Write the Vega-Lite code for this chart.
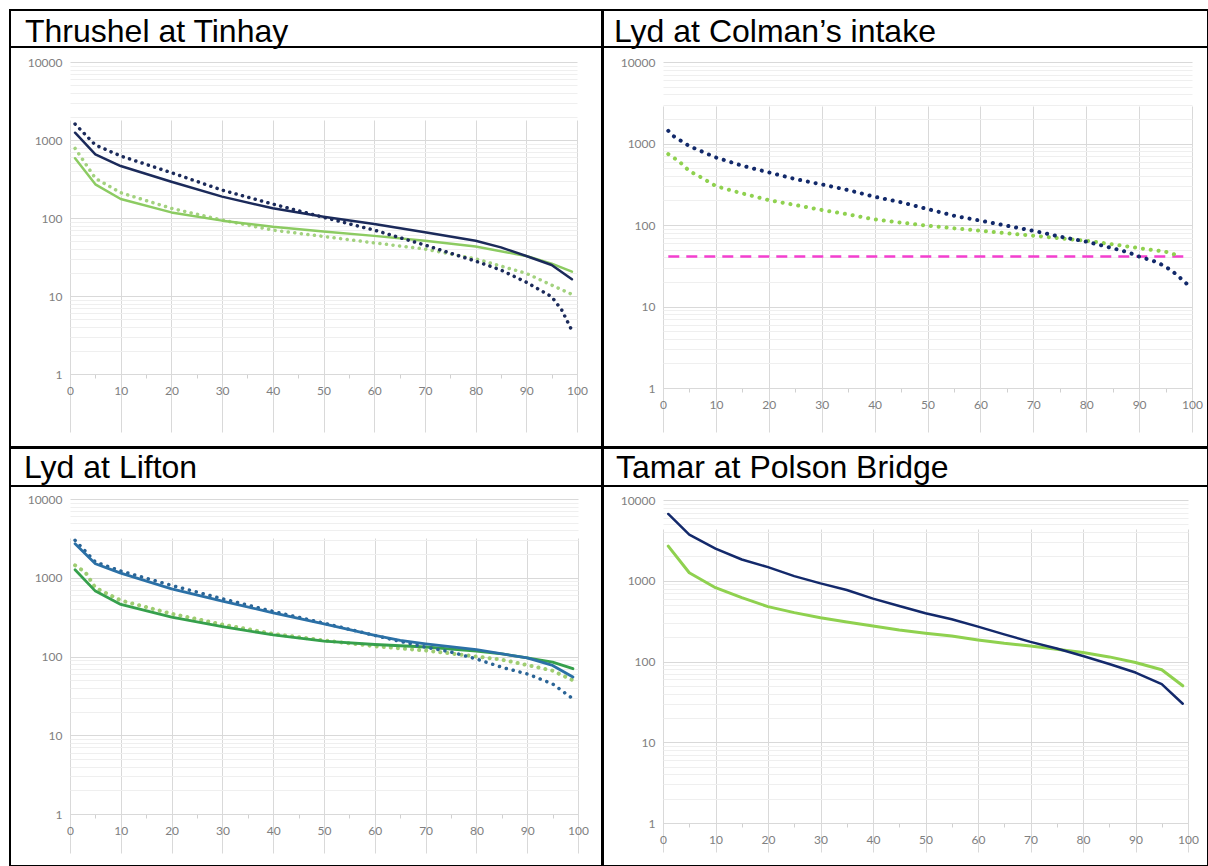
{
  "$schema": "https://vega.github.io/schema/vega-lite/v6.json",
  "padding": {"left": 9, "top": 9, "right": 0, "bottom": 0},
  "background": "#ffffff",
  "spacing": -2,
  "config": {
    "view": {"stroke": "#000000", "strokeWidth": 2},
    "line": {"strokeCap": "round", "strokeJoin": "round"},
    "axis": {"labelFont": "Lato", "labelFontSize": 12, "labelColor": "#808080"},
    "title": {"font": "Liberation Sans", "fontSize": 32, "fontWeight": "normal", "color": "#000000", "anchor": "start", "frame": "group", "baseline": "alphabetic", "offset": 0, "orient": "top"}
  },
  "datasets": {
    "thrushel": [
      {"series": "A1", "pct": 1, "flow": 1240}, {"series": "A1", "pct": 5, "flow": 655}, {"series": "A1", "pct": 10, "flow": 464}, {"series": "A1", "pct": 20, "flow": 292}, {"series": "A1", "pct": 30, "flow": 188}, {"series": "A1", "pct": 40, "flow": 133}, {"series": "A1", "pct": 50, "flow": 104}, {"series": "A1", "pct": 60, "flow": 84}, {"series": "A1", "pct": 70, "flow": 65.5}, {"series": "A1", "pct": 80, "flow": 51}, {"series": "A1", "pct": 85, "flow": 42}, {"series": "A1", "pct": 90, "flow": 32.6}, {"series": "A1", "pct": 95, "flow": 25}, {"series": "A1", "pct": 99, "flow": 16.4},
      {"series": "A2", "pct": 1, "flow": 1600}, {"series": "A2", "pct": 5, "flow": 863}, {"series": "A2", "pct": 10, "flow": 624}, {"series": "A2", "pct": 20, "flow": 381}, {"series": "A2", "pct": 30, "flow": 228}, {"series": "A2", "pct": 40, "flow": 151}, {"series": "A2", "pct": 50, "flow": 102}, {"series": "A2", "pct": 60, "flow": 70}, {"series": "A2", "pct": 70, "flow": 45}, {"series": "A2", "pct": 80, "flow": 28}, {"series": "A2", "pct": 85, "flow": 21.5}, {"series": "A2", "pct": 90, "flow": 15}, {"series": "A2", "pct": 95, "flow": 9.8}, {"series": "A2", "pct": 97, "flow": 6.6}, {"series": "A2", "pct": 99, "flow": 3.6},
      {"series": "B1", "pct": 1, "flow": 582}, {"series": "B1", "pct": 5, "flow": 270}, {"series": "B1", "pct": 10, "flow": 175}, {"series": "B1", "pct": 20, "flow": 118}, {"series": "B1", "pct": 30, "flow": 92.5}, {"series": "B1", "pct": 40, "flow": 77}, {"series": "B1", "pct": 50, "flow": 67}, {"series": "B1", "pct": 60, "flow": 59}, {"series": "B1", "pct": 70, "flow": 51}, {"series": "B1", "pct": 80, "flow": 43}, {"series": "B1", "pct": 90, "flow": 32.6}, {"series": "B1", "pct": 95, "flow": 26}, {"series": "B1", "pct": 99, "flow": 20.5},
      {"series": "B2", "pct": 1, "flow": 782}, {"series": "B2", "pct": 5, "flow": 323}, {"series": "B2", "pct": 10, "flow": 211}, {"series": "B2", "pct": 20, "flow": 133}, {"series": "B2", "pct": 30, "flow": 94}, {"series": "B2", "pct": 40, "flow": 70}, {"series": "B2", "pct": 50, "flow": 58}, {"series": "B2", "pct": 60, "flow": 48}, {"series": "B2", "pct": 70, "flow": 40}, {"series": "B2", "pct": 80, "flow": 30}, {"series": "B2", "pct": 90, "flow": 19.5}, {"series": "B2", "pct": 95, "flow": 13.8}, {"series": "B2", "pct": 99, "flow": 10.5}
    ],
    "colman": [
      {"series": "A2", "pct": 1, "flow": 1430}, {"series": "A2", "pct": 2, "flow": 1230}, {"series": "A2", "pct": 5, "flow": 928}, {"series": "A2", "pct": 10, "flow": 674}, {"series": "A2", "pct": 15, "flow": 533}, {"series": "A2", "pct": 20, "flow": 442}, {"series": "A2", "pct": 25, "flow": 366}, {"series": "A2", "pct": 30, "flow": 315}, {"series": "A2", "pct": 35, "flow": 268}, {"series": "A2", "pct": 40, "flow": 222}, {"series": "A2", "pct": 45, "flow": 190}, {"series": "A2", "pct": 50, "flow": 157}, {"series": "A2", "pct": 55, "flow": 130}, {"series": "A2", "pct": 60, "flow": 113}, {"series": "A2", "pct": 65, "flow": 98}, {"series": "A2", "pct": 70, "flow": 85}, {"series": "A2", "pct": 75, "flow": 72}, {"series": "A2", "pct": 80, "flow": 62.5}, {"series": "A2", "pct": 85, "flow": 52}, {"series": "A2", "pct": 88, "flow": 46}, {"series": "A2", "pct": 90, "flow": 41}, {"series": "A2", "pct": 93, "flow": 35.6}, {"series": "A2", "pct": 95, "flow": 31}, {"series": "A2", "pct": 97, "flow": 24.9}, {"series": "A2", "pct": 99, "flow": 19},
      {"series": "B2", "pct": 1, "flow": 740}, {"series": "B2", "pct": 3, "flow": 608}, {"series": "B2", "pct": 5, "flow": 458}, {"series": "B2", "pct": 7, "flow": 391}, {"series": "B2", "pct": 10, "flow": 300}, {"series": "B2", "pct": 15, "flow": 244}, {"series": "B2", "pct": 20, "flow": 202}, {"series": "B2", "pct": 25, "flow": 176}, {"series": "B2", "pct": 30, "flow": 153}, {"series": "B2", "pct": 35, "flow": 135}, {"series": "B2", "pct": 40, "flow": 117}, {"series": "B2", "pct": 45, "flow": 107}, {"series": "B2", "pct": 50, "flow": 98}, {"series": "B2", "pct": 55, "flow": 91}, {"series": "B2", "pct": 60, "flow": 85}, {"series": "B2", "pct": 65, "flow": 79}, {"series": "B2", "pct": 70, "flow": 74}, {"series": "B2", "pct": 75, "flow": 68.7}, {"series": "B2", "pct": 80, "flow": 64}, {"series": "B2", "pct": 85, "flow": 58}, {"series": "B2", "pct": 90, "flow": 52}, {"series": "B2", "pct": 95, "flow": 47}, {"series": "B2", "pct": 98, "flow": 41},
      {"series": "threshold", "pct": 1, "flow": 41}, {"series": "threshold", "pct": 99, "flow": 41}
    ],
    "lifton": [
      {"series": "A1", "pct": 1, "flow": 2700}, {"series": "A1", "pct": 5, "flow": 1507}, {"series": "A1", "pct": 10, "flow": 1146}, {"series": "A1", "pct": 20, "flow": 724}, {"series": "A1", "pct": 30, "flow": 505}, {"series": "A1", "pct": 40, "flow": 359}, {"series": "A1", "pct": 50, "flow": 260}, {"series": "A1", "pct": 60, "flow": 185}, {"series": "A1", "pct": 65, "flow": 160}, {"series": "A1", "pct": 70, "flow": 145}, {"series": "A1", "pct": 80, "flow": 122}, {"series": "A1", "pct": 90, "flow": 96}, {"series": "A1", "pct": 95, "flow": 77}, {"series": "A1", "pct": 99, "flow": 55},
      {"series": "A2", "pct": 1, "flow": 2985}, {"series": "A2", "pct": 5, "flow": 1585}, {"series": "A2", "pct": 10, "flow": 1216}, {"series": "A2", "pct": 20, "flow": 799}, {"series": "A2", "pct": 30, "flow": 541}, {"series": "A2", "pct": 40, "flow": 373}, {"series": "A2", "pct": 50, "flow": 265}, {"series": "A2", "pct": 60, "flow": 185}, {"series": "A2", "pct": 70, "flow": 131}, {"series": "A2", "pct": 75, "flow": 114}, {"series": "A2", "pct": 80, "flow": 93}, {"series": "A2", "pct": 85, "flow": 73}, {"series": "A2", "pct": 90, "flow": 60}, {"series": "A2", "pct": 95, "flow": 45}, {"series": "A2", "pct": 99, "flow": 29},
      {"series": "B1", "pct": 1, "flow": 1264}, {"series": "B1", "pct": 5, "flow": 677}, {"series": "B1", "pct": 10, "flow": 458}, {"series": "B1", "pct": 20, "flow": 316}, {"series": "B1", "pct": 30, "flow": 240}, {"series": "B1", "pct": 40, "flow": 188}, {"series": "B1", "pct": 50, "flow": 157}, {"series": "B1", "pct": 60, "flow": 142}, {"series": "B1", "pct": 70, "flow": 132}, {"series": "B1", "pct": 80, "flow": 117}, {"series": "B1", "pct": 85, "flow": 108}, {"series": "B1", "pct": 90, "flow": 96}, {"series": "B1", "pct": 95, "flow": 85}, {"series": "B1", "pct": 99, "flow": 70},
      {"series": "B2", "pct": 1, "flow": 1435}, {"series": "B2", "pct": 3, "flow": 1180}, {"series": "B2", "pct": 5, "flow": 746}, {"series": "B2", "pct": 10, "flow": 515}, {"series": "B2", "pct": 20, "flow": 349}, {"series": "B2", "pct": 30, "flow": 255}, {"series": "B2", "pct": 40, "flow": 194}, {"series": "B2", "pct": 50, "flow": 160}, {"series": "B2", "pct": 60, "flow": 135}, {"series": "B2", "pct": 70, "flow": 119}, {"series": "B2", "pct": 80, "flow": 100}, {"series": "B2", "pct": 85, "flow": 91}, {"series": "B2", "pct": 90, "flow": 78}, {"series": "B2", "pct": 95, "flow": 66}, {"series": "B2", "pct": 99, "flow": 50}
    ],
    "tamar": [
      {"series": "A1", "pct": 1, "flow": 6715}, {"series": "A1", "pct": 5, "flow": 3733}, {"series": "A1", "pct": 10, "flow": 2506}, {"series": "A1", "pct": 15, "flow": 1833}, {"series": "A1", "pct": 20, "flow": 1475}, {"series": "A1", "pct": 25, "flow": 1142}, {"series": "A1", "pct": 30, "flow": 927}, {"series": "A1", "pct": 35, "flow": 768}, {"series": "A1", "pct": 40, "flow": 600}, {"series": "A1", "pct": 45, "flow": 487}, {"series": "A1", "pct": 50, "flow": 395}, {"series": "A1", "pct": 55, "flow": 333}, {"series": "A1", "pct": 60, "flow": 270}, {"series": "A1", "pct": 65, "flow": 217}, {"series": "A1", "pct": 70, "flow": 175}, {"series": "A1", "pct": 75, "flow": 145}, {"series": "A1", "pct": 80, "flow": 117}, {"series": "A1", "pct": 85, "flow": 93}, {"series": "A1", "pct": 90, "flow": 73}, {"series": "A1", "pct": 95, "flow": 52.5}, {"series": "A1", "pct": 99, "flow": 30},
      {"series": "B1", "pct": 1, "flow": 2680}, {"series": "B1", "pct": 5, "flow": 1256}, {"series": "B1", "pct": 10, "flow": 820}, {"series": "B1", "pct": 15, "flow": 617}, {"series": "B1", "pct": 20, "flow": 478}, {"series": "B1", "pct": 25, "flow": 403}, {"series": "B1", "pct": 30, "flow": 349}, {"series": "B1", "pct": 35, "flow": 309}, {"series": "B1", "pct": 40, "flow": 276}, {"series": "B1", "pct": 45, "flow": 246}, {"series": "B1", "pct": 50, "flow": 224}, {"series": "B1", "pct": 55, "flow": 207}, {"series": "B1", "pct": 60, "flow": 185}, {"series": "B1", "pct": 65, "flow": 168}, {"series": "B1", "pct": 70, "flow": 156}, {"series": "B1", "pct": 75, "flow": 142}, {"series": "B1", "pct": 80, "flow": 129}, {"series": "B1", "pct": 85, "flow": 114}, {"series": "B1", "pct": 90, "flow": 97}, {"series": "B1", "pct": 95, "flow": 79}, {"series": "B1", "pct": 99, "flow": 50}
    ]
  },
  "vconcat": [
    {
      "spacing": -2,
      "hconcat": [
        {
          "spacing": 0,
          "bounds": "flush",
          "vconcat": [
            {
              "width": 592, "height": 37,
              "view": {"stroke": "#000000", "strokeWidth": 2},
              "title": {"text": "Thrushel at Tinhay", "dx": 15, "dy": 42.5},
              "data": {"values": []},
              "mark": "text"
            },
            {
              "width": 592, "height": 400,
              "data": {"name": "thrushel"},
              "encoding": {
                "x": {"field": "pct", "type": "quantitative",
                  "scale": {"domain": [0, 100], "range": [60, 567], "nice": false, "zero": false},
                  "axis": {"title": null, "orient": "bottom", "offset": -73, "values": [0,5,10,15,20,25,30,35,40,45,50,55,60,65,70,75,80,85,90,95,100], "labelExpr": "datum.value % 10 === 0 ? datum.label : ''", "grid": true, "gridColor": "#d9d9d9", "gridOpacity": {"condition": {"test": "datum.value % 10 === 0", "value": 1}, "value": 0}, "ticks": true, "tickSize": 4, "tickColor": "#d0d0d0", "tickOpacity": {"condition": {"test": "datum.value % 10 === 5", "value": 1}, "value": 0}, "domain": true, "domainColor": "#d9d9d9", "labelPadding": 7, "labelFlush": false, "labelOverlap": false}},
                "y": {"field": "flow", "type": "quantitative",
                  "scale": {"type": "log", "domain": [1, 10000], "range": [327, 15], "nice": false},
                  "axis": {"title": null, "orient": "left", "offset": -60, "values": [1,2,3,4,5,6,7,8,9,10,20,30,40,50,60,70,80,90,100,200,300,400,500,600,700,800,900,1000,2000,3000,4000,5000,6000,7000,8000,9000,10000], "labelExpr": "indexof([1,10,100,1000,10000], datum.value) >= 0 ? format(datum.value, 'd') : ''", "grid": true, "gridColor": {"condition": {"test": "indexof([1,10,100,1000,10000], datum.value) >= 0", "value": "#d9d9d9"}, "value": "#efefef"}, "ticks": false, "domain": false, "labelPadding": 8, "labelOverlap": false, "labelFlush": false, "labelBound": false}}
              },
              "layer": [
                {"transform": [{"filter": "datum.series === 'B2'"}], "mark": {"type": "line", "color": "#a3d27f", "strokeWidth": 3.5, "strokeDash": [0.1, 6.5]}},
                {"transform": [{"filter": "datum.series === 'B1'"}], "mark": {"type": "line", "color": "#8ccb62", "strokeWidth": 2.5}},
                {"transform": [{"filter": "datum.series === 'A2'"}], "mark": {"type": "line", "color": "#1b2a5a", "strokeWidth": 3.5, "strokeDash": [0.1, 6.5]}},
                {"transform": [{"filter": "datum.series === 'A1'"}], "mark": {"type": "line", "color": "#1b2a5a", "strokeWidth": 2.5}}
              ]
            }
          ]
        },
        {
          "spacing": 0,
          "bounds": "flush",
          "vconcat": [
            {
              "width": 605, "height": 37,
              "view": {"stroke": "#000000", "strokeWidth": 2},
              "title": {"text": "Lyd at Colman’s intake", "dx": 11, "dy": 42.5},
              "data": {"values": []},
              "mark": "text"
            },
            {
              "width": 605, "height": 400,
              "data": {"name": "colman"},
              "encoding": {
                "x": {"field": "pct", "type": "quantitative",
                  "scale": {"domain": [0, 100], "range": [60, 589], "nice": false, "zero": false},
                  "axis": {"title": null, "orient": "bottom", "offset": -59, "values": [0,5,10,15,20,25,30,35,40,45,50,55,60,65,70,75,80,85,90,95,100], "labelExpr": "datum.value % 10 === 0 ? datum.label : ''", "grid": true, "gridColor": "#d9d9d9", "gridOpacity": {"condition": {"test": "datum.value % 10 === 0", "value": 1}, "value": 0}, "ticks": true, "tickSize": 4, "tickColor": "#d0d0d0", "tickOpacity": {"condition": {"test": "datum.value % 10 === 5", "value": 1}, "value": 0}, "domain": true, "domainColor": "#d9d9d9", "labelPadding": 7, "labelFlush": false, "labelOverlap": false}},
                "y": {"field": "flow", "type": "quantitative",
                  "scale": {"type": "log", "domain": [1, 10000], "range": [341, 15], "nice": false},
                  "axis": {"title": null, "orient": "left", "offset": -60, "values": [1,2,3,4,5,6,7,8,9,10,20,30,40,50,60,70,80,90,100,200,300,400,500,600,700,800,900,1000,2000,3000,4000,5000,6000,7000,8000,9000,10000], "labelExpr": "indexof([1,10,100,1000,10000], datum.value) >= 0 ? format(datum.value, 'd') : ''", "grid": true, "gridColor": {"condition": {"test": "indexof([1,10,100,1000,10000], datum.value) >= 0", "value": "#d9d9d9"}, "value": "#efefef"}, "ticks": false, "domain": false, "labelPadding": 8, "labelOverlap": false, "labelFlush": false, "labelBound": false}}
              },
              "layer": [
                {"transform": [{"filter": "datum.series === 'threshold'"}], "mark": {"type": "line", "color": "#f43fcf", "strokeWidth": 2.5, "strokeDash": [11, 7], "strokeCap": "butt"}},
                {"transform": [{"filter": "datum.series === 'B2'"}], "mark": {"type": "line", "color": "#8fd14f", "strokeWidth": 4, "strokeDash": [0.1, 7.8]}},
                {"transform": [{"filter": "datum.series === 'A2'"}], "mark": {"type": "line", "color": "#12296a", "strokeWidth": 4, "strokeDash": [0.1, 7.8]}}
              ]
            }
          ]
        }
      ]
    },
    {
      "spacing": -2,
      "hconcat": [
        {
          "spacing": 0,
          "bounds": "flush",
          "vconcat": [
            {
              "width": 592, "height": 38,
              "view": {"stroke": "#000000", "strokeWidth": 2},
              "title": {"text": "Lyd at Lifton", "dx": 14, "dy": 40.5},
              "data": {"values": []},
              "mark": "text"
            },
            {
              "width": 592, "height": 380,
              "data": {"name": "lifton"},
              "encoding": {
                "x": {"field": "pct", "type": "quantitative",
                  "scale": {"domain": [0, 100], "range": [60, 568], "nice": false, "zero": false},
                  "axis": {"title": null, "orient": "bottom", "offset": -52, "values": [0,5,10,15,20,25,30,35,40,45,50,55,60,65,70,75,80,85,90,95,100], "labelExpr": "datum.value % 10 === 0 ? datum.label : ''", "grid": true, "gridColor": "#d9d9d9", "gridOpacity": {"condition": {"test": "datum.value % 10 === 0", "value": 1}, "value": 0}, "ticks": true, "tickSize": 4, "tickColor": "#d0d0d0", "tickOpacity": {"condition": {"test": "datum.value % 10 === 5", "value": 1}, "value": 0}, "domain": true, "domainColor": "#d9d9d9", "labelPadding": 7, "labelFlush": false, "labelOverlap": false}},
                "y": {"field": "flow", "type": "quantitative",
                  "scale": {"type": "log", "domain": [1, 10000], "range": [328, 13], "nice": false},
                  "axis": {"title": null, "orient": "left", "offset": -60, "values": [1,2,3,4,5,6,7,8,9,10,20,30,40,50,60,70,80,90,100,200,300,400,500,600,700,800,900,1000,2000,3000,4000,5000,6000,7000,8000,9000,10000], "labelExpr": "indexof([1,10,100,1000,10000], datum.value) >= 0 ? format(datum.value, 'd') : ''", "grid": true, "gridColor": {"condition": {"test": "indexof([1,10,100,1000,10000], datum.value) >= 0", "value": "#d9d9d9"}, "value": "#efefef"}, "ticks": false, "domain": false, "labelPadding": 8, "labelOverlap": false, "labelFlush": false, "labelBound": false}}
              },
              "layer": [
                {"transform": [{"filter": "datum.series === 'B2'"}], "mark": {"type": "line", "color": "#9fcd72", "strokeWidth": 4, "strokeDash": [0.1, 7]}},
                {"transform": [{"filter": "datum.series === 'B1'"}], "mark": {"type": "line", "color": "#36a04c", "strokeWidth": 2.8}},
                {"transform": [{"filter": "datum.series === 'A2'"}], "mark": {"type": "line", "color": "#2a6496", "strokeWidth": 3.5, "strokeDash": [0.1, 7]}},
                {"transform": [{"filter": "datum.series === 'A1'"}], "mark": {"type": "line", "color": "#2b70a6", "strokeWidth": 2.8}}
              ]
            }
          ]
        },
        {
          "spacing": 0,
          "bounds": "flush",
          "vconcat": [
            {
              "width": 605, "height": 38,
              "view": {"stroke": "#000000", "strokeWidth": 2},
              "title": {"text": "Tamar at Polson Bridge", "dx": 13, "dy": 40.5},
              "data": {"values": []},
              "mark": "text"
            },
            {
              "width": 605, "height": 380,
              "data": {"name": "tamar"},
              "encoding": {
                "x": {"field": "pct", "type": "quantitative",
                  "scale": {"domain": [0, 100], "range": [60, 585], "nice": false, "zero": false},
                  "axis": {"title": null, "orient": "bottom", "offset": -43, "values": [0,5,10,15,20,25,30,35,40,45,50,55,60,65,70,75,80,85,90,95,100], "labelExpr": "datum.value % 10 === 0 ? datum.label : ''", "grid": true, "gridColor": "#d9d9d9", "gridOpacity": {"condition": {"test": "datum.value % 10 === 0", "value": 1}, "value": 0}, "ticks": true, "tickSize": 4, "tickColor": "#d0d0d0", "tickOpacity": {"condition": {"test": "datum.value % 10 === 5", "value": 1}, "value": 0}, "domain": true, "domainColor": "#d9d9d9", "labelPadding": 7, "labelFlush": false, "labelOverlap": false}},
                "y": {"field": "flow", "type": "quantitative",
                  "scale": {"type": "log", "domain": [1, 10000], "range": [337, 14], "nice": false},
                  "axis": {"title": null, "orient": "left", "offset": -60, "values": [1,2,3,4,5,6,7,8,9,10,20,30,40,50,60,70,80,90,100,200,300,400,500,600,700,800,900,1000,2000,3000,4000,5000,6000,7000,8000,9000,10000], "labelExpr": "indexof([1,10,100,1000,10000], datum.value) >= 0 ? format(datum.value, 'd') : ''", "grid": true, "gridColor": {"condition": {"test": "indexof([1,10,100,1000,10000], datum.value) >= 0", "value": "#d9d9d9"}, "value": "#efefef"}, "ticks": false, "domain": false, "labelPadding": 8, "labelOverlap": false, "labelFlush": false, "labelBound": false}}
              },
              "layer": [
                {"transform": [{"filter": "datum.series === 'B1'"}], "mark": {"type": "line", "color": "#8fd14f", "strokeWidth": 3}},
                {"transform": [{"filter": "datum.series === 'A1'"}], "mark": {"type": "line", "color": "#13296b", "strokeWidth": 2.5}}
              ]
            }
          ]
        }
      ]
    }
  ]
}
